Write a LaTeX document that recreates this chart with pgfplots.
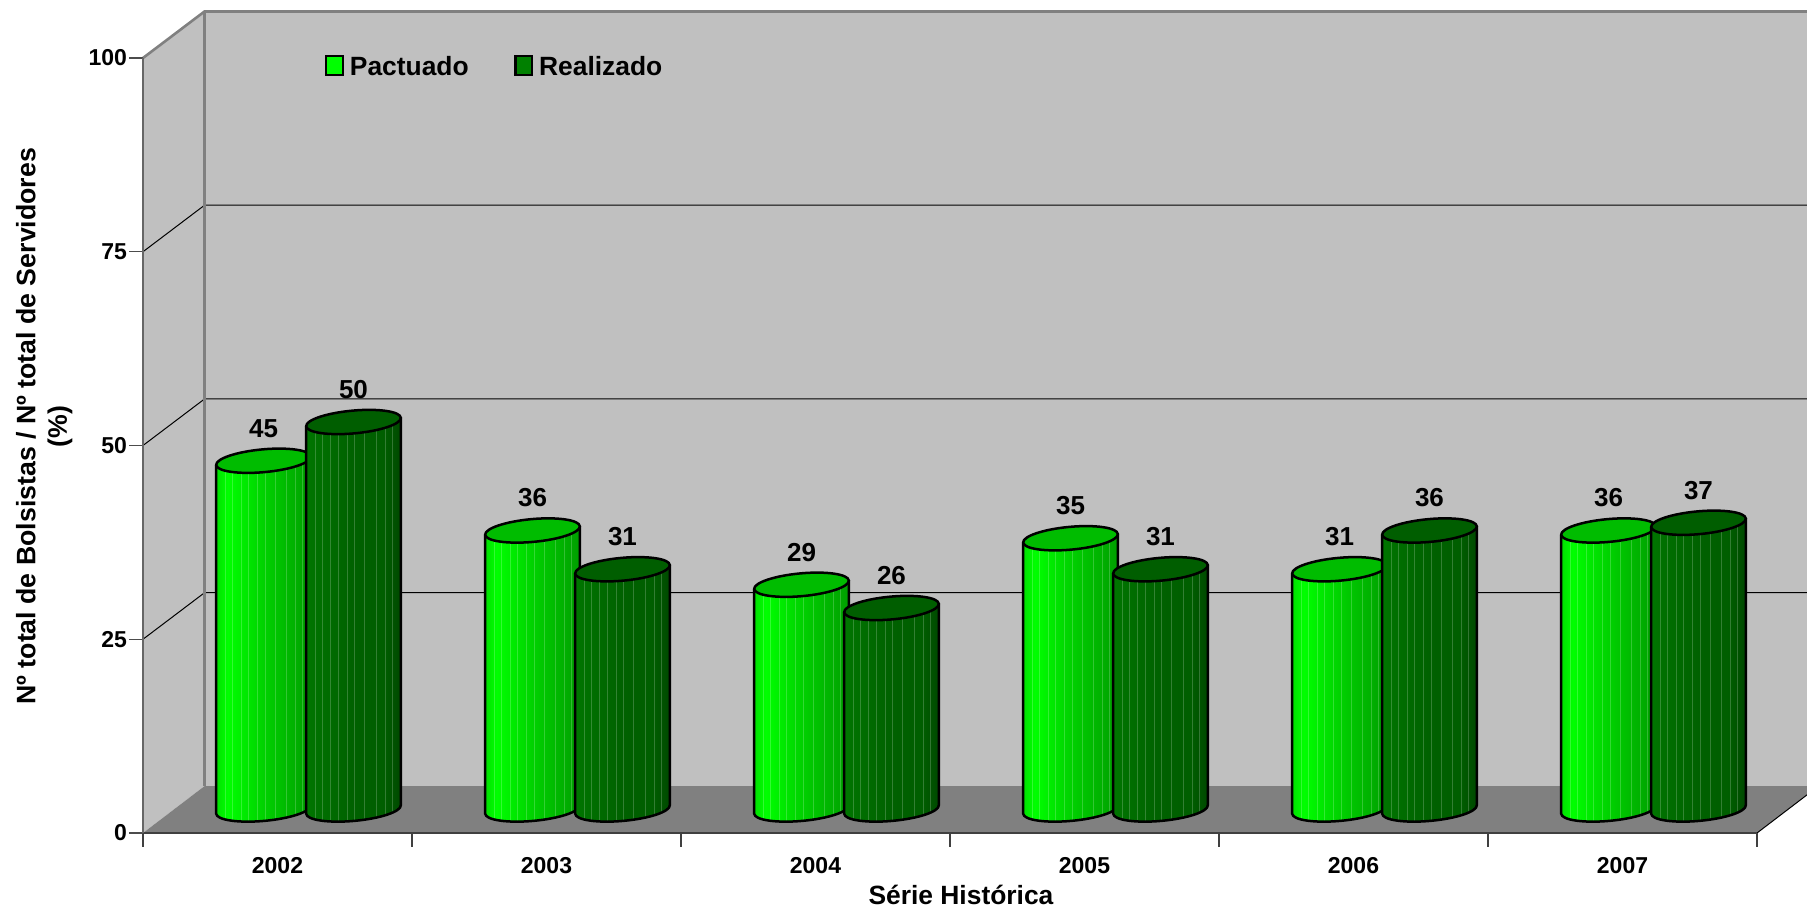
\documentclass[border=0pt]{standalone}
\usepackage{pgfplots}
\pgfplotsset{compat=1.18}
\usepackage{fontspec}
\setmainfont{Liberation Sans}
\definecolor{wall}{HTML}{C0C0C0}
\definecolor{floorc}{HTML}{808080}
\definecolor{pacttop}{HTML}{00BC00}
\definecolor{realtop}{HTML}{005E00}
\pgfdeclarehorizontalshading{pactS}{100bp}{color(0bp)=(green!90!black); color(25bp)=(green!88!black); color(31bp)=(green); color(50bp)=(green!82!black); color(75bp)=(green!62!black); color(100bp)=(green!62!black)}
\pgfdeclarehorizontalshading{realS}{100bp}{color(0bp)=(green!46!black); color(25bp)=(green!46!black); color(50bp)=(green!38!black); color(66bp)=(green!37!black); color(75bp)=(green!28!black); color(100bp)=(green!28!black)}
\pgfdeclareplotmark{nothing}{}
% body outline relative to the base centre; half width 23.75pt, tilt 5.2 degrees
\newcommand\cylbody{(-23.65pt,\ytop pt-2.15pt) -- (-23.65pt,\ybot pt-2.15pt)
 .. controls (-23.37pt,\ybot pt-5.27pt) and (-12.55pt,\ybot pt-6.865pt) .. (0.516pt,\ybot pt-5.68pt)
 .. controls (13.58pt,\ybot pt-4.49pt) and (23.94pt,\ybot pt-0.985pt) .. (23.65pt,\ybot pt+2.15pt)
 -- (23.65pt,\ytop pt+2.15pt)}
\newcommand\cyltop{(-23.65pt,\ytop pt-2.15pt)
 .. controls (-23.37pt,\ytop pt-5.27pt) and (-12.55pt,\ytop pt-6.865pt) .. (0.516pt,\ytop pt-5.68pt)
 .. controls (13.58pt,\ytop pt-4.49pt) and (23.94pt,\ytop pt-0.985pt) .. (23.65pt,\ytop pt+2.15pt)
 .. controls (23.37pt,\ytop pt+5.27pt) and (12.55pt,\ytop pt+6.865pt) .. (-0.516pt,\ytop pt+5.68pt)
 .. controls (-13.58pt,\ytop pt+4.49pt) and (-23.94pt,\ytop pt+0.985pt) .. (-23.65pt,\ytop pt-2.15pt)}
\newcommand\cyl[2]{%
 \pgfmathsetmacro\ytop{11.75}%
 \pgfmathsetmacro\ybot{11.75-3.875*\val}%
 \shade[shading=#1] \cylbody -- cycle;
 \begin{scope}
  \clip \cylbody -- cycle;
  \foreach \u in {-19,-15.5,-11.3,-7.5,-3,0.7,5.7,11.5,16,19.5}
    \draw[white,opacity=.2,line width=.4pt] (\u pt,\ytop pt) -- (\u pt,\ybot pt-8pt);
 \end{scope}
 \draw[black,line width=1.25pt] \cylbody;
 \draw[black,line width=1.25pt,fill=#2] \cyltop -- cycle;
}
\pgfplotsset{
  cylinders/.style n args={2}{only marks,scatter,mark=nothing,point meta=y,forget plot,
    visualization depends on={y \as \val},
    scatter/@pre marker code/.code={\cyl{#1}{#2}},
    scatter/@post marker code/.code={}},
  vallabels/.style={only marks,mark=none,point meta=y,forget plot,
    nodes near coords,
    every node near coord/.append style={anchor=center,yshift=28pt,font=\bfseries\fontsize{13}{15}\selectfont,color=black}},
}
\begin{document}
\begin{tikzpicture}
\path[use as bounding box,clip] (0,0) rectangle (903.5pt,455pt);
\begin{axis}[
  at={(71.5pt,38.5pt)}, anchor=south west,
  scale only axis, width=807pt, height=387.5pt,
  xmin=0, xmax=6, ymin=0, ymax=100,
  clip=false, axis on top,
  axis x line*=bottom, axis y line*=left,
  x axis line style={-,color=black!75,line width=1pt},
  y axis line style={-,color=black!60,line width=1pt},
  /pgf/number format/assume math mode=true,
  xtick={0,1,2,3,4,5,6},
  xticklabels={},
  extra x ticks={0.5,1.5,2.5,3.5,4.5,5.5},
  extra x tick labels={2002,2003,2004,2005,2006,2007},
  extra x tick style={tick style={draw=none},xticklabel style={yshift=-1.7pt}},
  ytick={0,25,50,75,100},
  tick align=outside,
  major tick length=6.8pt,
  x tick style={color=black!75,line width=.6pt},
  y tick style={color=black!70,line width=.6pt},
  tick label style={font=\bfseries\fontsize{11.5}{14}\selectfont},
  yticklabel style={inner sep=1pt},
  xlabel={Série Histórica},
  ylabel={Nº total de Bolsistas / Nº total de Servidores\\(\%)},
  every axis x label/.style={at={(0.5068,-0.08)},anchor=center,font=\bfseries\fontsize{13.2}{16.5}\selectfont},
  every axis y label/.style={at={(-0.0612,0.5248)},rotate=90,anchor=center,align=center,font=\bfseries\fontsize{13.35}{15.8}\selectfont},
  legend columns=2,
  legend style={draw=none,fill=none,at={(axis cs:0.677,98.75)},anchor=west,inner sep=0pt,outer sep=0pt,
     font=\bfseries\fontsize{13.2}{15}\selectfont,
     nodes={inner sep=3pt},
     /tikz/every even column/.append style={column sep=19.8pt}},
  legend cell align=left,
]
\addlegendimage{legend image code/.code={\draw[black,line width=1.1pt,fill=green] (0pt,-3.7pt) rectangle (8.3pt,5.7pt);}}
\addlegendentry{Pactuado}
\addlegendimage{legend image code/.code={\draw[black,line width=1.1pt,fill=green!50!black] (0pt,-3.7pt) rectangle (8.3pt,5.7pt);}}
\addlegendentry{Realizado}

% walls and floor
\addplot[fill=wall,draw=none,forget plot] coordinates {(0,0)(0.2286,6.05)(0.2286,106)(0,100)} -- cycle;
\addplot[fill=wall,draw=none,forget plot] coordinates {(0.2286,6.05)(6.2286,6.05)(6.2286,106)(0.2286,106)} -- cycle;
\addplot[fill=floorc,draw=none,forget plot] coordinates {(0,0)(0.2286,6.05)(6.2286,6.05)(6,0)} -- cycle;
% back grid lines
\addplot[black,line width=.5pt,forget plot] coordinates {(0,25)(0.2286,31)(6.2286,31)};
\addplot[black,line width=.5pt,forget plot] coordinates {(0,50)(0.2286,56)(6.2286,56)};
\addplot[black,line width=.5pt,forget plot] coordinates {(0,75)(0.2286,81)(6.2286,81)};
\addplot[black,line width=.5pt,forget plot] coordinates {(6,0)(6.2286,6.05)};
% wall edges
\addplot[floorc,line width=1.3pt,forget plot] coordinates {(0,100)(0.2286,106)(6.2286,106)};
\addplot[floorc,line width=1.3pt,forget plot] coordinates {(0.2286,6.05)(0.2286,106)};

% Pactuado
\addplot[cylinders={pactS}{pacttop}] coordinates {(0.448,45)(1.448,36)(2.448,29)(3.448,35)(4.448,31)(5.448,36)};
% Realizado
\addplot[cylinders={realS}{realtop}] coordinates {(0.7825,50)(1.7825,31)(2.7825,26)(3.7825,31)(4.7825,36)(5.7825,37)};
% value labels
\addplot[vallabels] coordinates {(0.448,45)(1.448,36)(2.448,29)(3.448,35)(4.448,31)(5.448,36)};
\addplot[vallabels] coordinates {(0.7825,50)(1.7825,31)(2.7825,26)(3.7825,31)(4.7825,36)(5.7825,37)};
\end{axis}
\end{tikzpicture}
\end{document}
